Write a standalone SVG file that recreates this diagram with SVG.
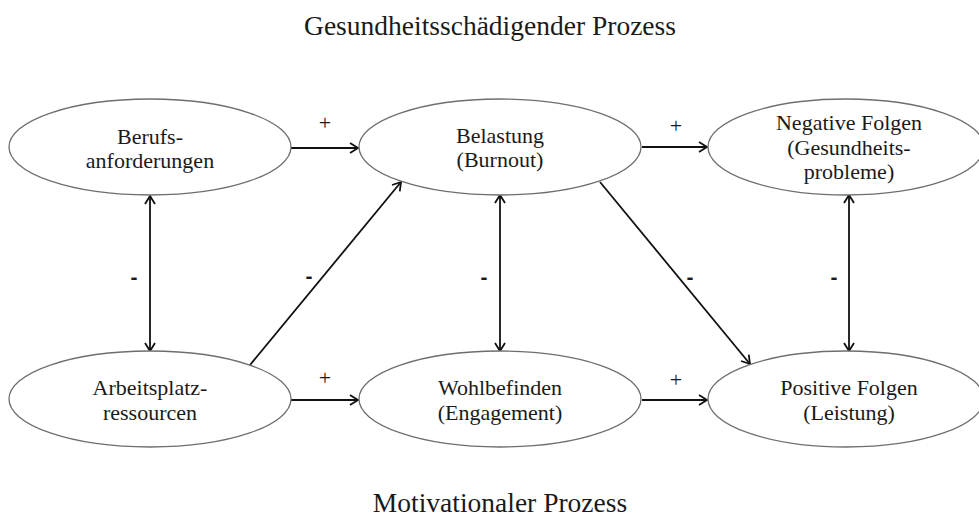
<svg xmlns="http://www.w3.org/2000/svg" width="979" height="517" viewBox="0 0 979 517">
<style>
.shape{fill:#fff;stroke:#6e6e6e;stroke-width:1.3}
.serif{fill:#1a1a1a;text-anchor:middle}
.minus{fill:#1a1a1a;text-anchor:middle}
.edge{stroke:#111;stroke-width:1.8;fill:none}
</style>
<defs>
<marker id="ah" markerUnits="userSpaceOnUse" markerWidth="14" markerHeight="14" viewBox="0 0 14 14" refX="12" refY="7" orient="auto-start-reverse">
<path d="M4,2 L12,7 L4,12" fill="none" stroke="#111" stroke-width="1.8"/>
</marker>
</defs>
<rect width="979" height="517" fill="#fff"/>
<text class="serif" style="font-family:'Liberation Serif',serif;font-size:27.5px" x="490" y="35">Gesundheitsschädigender Prozess</text>
<text class="serif" style="font-family:'Liberation Serif',serif;font-size:27.5px" x="500" y="512">Motivationaler Prozess</text>
<g id="connectors">
<line class="edge" x1="291" y1="148" x2="358" y2="148" marker-end="url(#ah)"/>
<line class="edge" x1="642" y1="147" x2="707" y2="147" marker-end="url(#ah)"/>
<line class="edge" x1="291" y1="400" x2="358" y2="400" marker-end="url(#ah)"/>
<line class="edge" x1="642" y1="400" x2="707" y2="400" marker-end="url(#ah)"/>
<line class="edge" x1="150" y1="196" x2="150" y2="351" marker-start="url(#ah)" marker-end="url(#ah)"/>
<line class="edge" x1="500" y1="195" x2="500" y2="351" marker-start="url(#ah)" marker-end="url(#ah)"/>
<line class="edge" x1="849" y1="195" x2="849" y2="351" marker-start="url(#ah)" marker-end="url(#ah)"/>
<line class="edge" x1="250" y1="365" x2="401" y2="182" marker-end="url(#ah)"/>
<line class="edge" x1="600" y1="182" x2="750" y2="364" marker-end="url(#ah)"/>
</g>
<g id="labels">
<text class="serif" style="font-family:'Liberation Serif',serif;font-size:22px" x="325" y="130">+</text>
<text class="serif" style="font-family:'Liberation Serif',serif;font-size:22px" x="676" y="133">+</text>
<text class="serif" style="font-family:'Liberation Serif',serif;font-size:22px" x="325" y="385">+</text>
<text class="serif" style="font-family:'Liberation Serif',serif;font-size:22px" x="676" y="387">+</text>
<text class="minus" style="font-family:'Liberation Sans',sans-serif;font-size:21px;font-weight:bold" x="134" y="284">-</text>
<text class="minus" style="font-family:'Liberation Sans',sans-serif;font-size:21px;font-weight:bold" x="309" y="283">-</text>
<text class="minus" style="font-family:'Liberation Sans',sans-serif;font-size:21px;font-weight:bold" x="484" y="284">-</text>
<text class="minus" style="font-family:'Liberation Sans',sans-serif;font-size:21px;font-weight:bold" x="690" y="284">-</text>
<text class="minus" style="font-family:'Liberation Sans',sans-serif;font-size:21px;font-weight:bold" x="834" y="284">-</text>
</g>
<g id="n1">
<ellipse class="shape" cx="150" cy="147" rx="141" ry="48"/>
<text class="serif" style="font-family:'Liberation Serif',serif;font-size:22px" x="150" y="144">Berufs-</text>
<text class="serif" style="font-family:'Liberation Serif',serif;font-size:22px" x="150" y="168">anforderungen</text>
</g>
<g id="n2">
<ellipse class="shape" cx="500" cy="147" rx="141" ry="48"/>
<text class="serif" style="font-family:'Liberation Serif',serif;font-size:22px" x="500" y="143">Belastung</text>
<text class="serif" style="font-family:'Liberation Serif',serif;font-size:22px" x="500" y="167">(Burnout)</text>
</g>
<g id="n3">
<ellipse class="shape" cx="846" cy="147" rx="138" ry="48"/>
<text class="serif" style="font-family:'Liberation Serif',serif;font-size:22px" x="849" y="130">Negative Folgen</text>
<text class="serif" style="font-family:'Liberation Serif',serif;font-size:22px" x="849" y="155">(Gesundheits-</text>
<text class="serif" style="font-family:'Liberation Serif',serif;font-size:22px" x="849" y="179">probleme)</text>
</g>
<g id="n4">
<ellipse class="shape" cx="150" cy="399" rx="141" ry="48"/>
<text class="serif" style="font-family:'Liberation Serif',serif;font-size:22px" x="150" y="395">Arbeitsplatz-</text>
<text class="serif" style="font-family:'Liberation Serif',serif;font-size:22px" x="150" y="420">ressourcen</text>
</g>
<g id="n5">
<ellipse class="shape" cx="500" cy="399" rx="141" ry="48"/>
<text class="serif" style="font-family:'Liberation Serif',serif;font-size:22px" x="500" y="395">Wohlbefinden</text>
<text class="serif" style="font-family:'Liberation Serif',serif;font-size:22px" x="500" y="420">(Engagement)</text>
</g>
<g id="n6">
<ellipse class="shape" cx="846" cy="399" rx="138" ry="48"/>
<text class="serif" style="font-family:'Liberation Serif',serif;font-size:22px" x="849" y="395">Positive Folgen</text>
<text class="serif" style="font-family:'Liberation Serif',serif;font-size:22px" x="849" y="420">(Leistung)</text>
</g>
</svg>
